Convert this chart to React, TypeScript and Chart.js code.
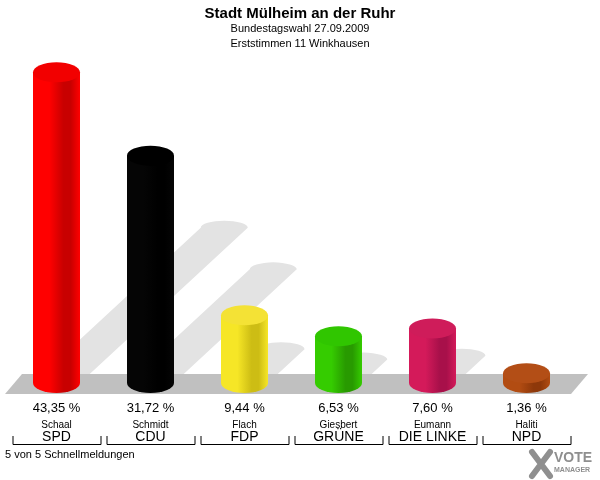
import React, { useEffect, useRef } from "react";
import { Chart, registerables } from "chart.js";

Chart.register(...registerables);

const parties = ["SPD", "CDU", "FDP", "GRÜNE", "DIE LINKE", "NPD"];
const candidates = ["Schaal", "Schmidt", "Flach", "Giesbert", "Eumann", "Haliti"];
const values = [43.35, 31.72, 9.44, 6.53, 7.6, 1.36];
const valueLabels = ["43,35 %", "31,72 %", "9,44 %", "6,53 %", "7,60 %", "1,36 %"];
const sideColors = ["#ff0000", "#050505", "#f6e626", "#35cc00", "#d41a5a", "#b24c12"];
const darkColors = ["#c80000", "#000000", "#cdbd14", "#289a00", "#a8104a", "#8e380a"];
const topColors = ["#f20000", "#000000", "#f4e235", "#30c600", "#cf1c5a", "#b34e16"];

const titleText = "Stadt Mülheim an der Ruhr";
const subtitle1 = "Bundestagswahl 27.09.2009";
const subtitle2 = "Erststimmen 11 Winkhausen";
const footText = "5 von 5 Schnellmeldungen";

const FONT = "'Liberation Sans', Arial, sans-serif";

const cylinderPlugin = {
  id: "cylinders",
  afterDatasetsDraw(chart: any) {
    const ctx: CanvasRenderingContext2D = chart.ctx;
    const meta = chart.getDatasetMeta(0);
    const yScale = chart.scales.y;
    const base = yScale.getPixelForValue(0);
    const ry = 10;
    const els = meta.data;

    ctx.save();
    // shadows
    ctx.fillStyle = "#e3e3e3";
    els.forEach((el: any) => {
      const w = el.width;
      const xl = el.x - w / 2;
      const xr = el.x + w / 2;
      const h = base - el.y;
      const d = h / 2;
      const dx = d * 1.08;
      ctx.beginPath();
      ctx.moveTo(xl, base);
      ctx.lineTo(xr, base);
      ctx.lineTo(xr + dx, base - d);
      ctx.ellipse(el.x + dx, base - d, w / 2, 7, 0, 0, Math.PI, true);
      ctx.lineTo(xl, base);
      ctx.closePath();
      ctx.fill();
    });

    // floor
    ctx.fillStyle = "#c0c0c0";
    ctx.beginPath();
    ctx.moveTo(5, base + 11);
    ctx.lineTo(22, base - 9);
    ctx.lineTo(588, base - 9);
    ctx.lineTo(571, base + 11);
    ctx.closePath();
    ctx.fill();

    // cylinders
    els.forEach((el: any, i: number) => {
      const w = el.width;
      const xl = el.x - w / 2;
      const xr = el.x + w / 2;
      const top = el.y;
      const g = ctx.createLinearGradient(xl, 0, xr, 0);
      g.addColorStop(0, sideColors[i]);
      g.addColorStop(0.35, sideColors[i]);
      g.addColorStop(0.65, darkColors[i]);
      g.addColorStop(0.8, darkColors[i]);
      g.addColorStop(1, sideColors[i]);
      ctx.fillStyle = g;
      ctx.beginPath();
      ctx.moveTo(xl, top);
      ctx.lineTo(xl, base);
      ctx.ellipse(el.x, base, w / 2, ry, 0, Math.PI, 0, true);
      ctx.lineTo(xr, top);
      ctx.closePath();
      ctx.fill();
      ctx.fillStyle = topColors[i];
      ctx.beginPath();
      ctx.ellipse(el.x, top, w / 2, ry, 0, 0, Math.PI * 2);
      ctx.fill();
    });

    // labels
    ctx.fillStyle = "#000";
    ctx.textAlign = "center";
    ctx.textBaseline = "middle";
    els.forEach((el: any, i: number) => {
      ctx.font = `13px ${FONT}`;
      ctx.fillText(valueLabels[i], el.x, 408);
      ctx.font = `10px ${FONT}`;
      ctx.fillText(candidates[i], el.x, 425);
      ctx.font = `14px ${FONT}`;
      ctx.fillText(parties[i], el.x, 437);
      ctx.strokeStyle = "#000";
      ctx.lineWidth = 1;
      ctx.beginPath();
      ctx.moveTo(el.x - 44 + 0.5, 436);
      ctx.lineTo(el.x - 44 + 0.5, 444.5);
      ctx.lineTo(el.x + 44 + 0.5, 444.5);
      ctx.lineTo(el.x + 44 + 0.5, 436);
      ctx.stroke();
    });

    // titles
    ctx.font = `bold 15px ${FONT}`;
    ctx.fillText(titleText, 300, 14);
    ctx.font = `11px ${FONT}`;
    ctx.fillText(subtitle1, 300, 29);
    ctx.fillText(subtitle2, 300, 44);

    ctx.textAlign = "left";
    ctx.font = `11px ${FONT}`;
    ctx.fillText(footText, 5, 455);

    // logo
    ctx.strokeStyle = "#8f8f8f";
    ctx.lineCap = "round";
    ctx.lineWidth = 6;
    ctx.beginPath();
    ctx.moveTo(532, 452);
    ctx.lineTo(550, 476);
    ctx.moveTo(550, 452);
    ctx.lineTo(532, 476);
    ctx.stroke();
    ctx.fillStyle = "#8f8f8f";
    ctx.font = `bold 14px ${FONT}`;
    ctx.fillText("VOTE", 554, 458);
    ctx.font = `bold 7px ${FONT}`;
    ctx.fillText("MANAGER", 554, 470);
    ctx.restore();
  },
};

export default function App() {
  const ref = useRef<HTMLCanvasElement | null>(null);
  useEffect(() => {
    if (!ref.current) return;
    const chart = new Chart(ref.current, {
      type: "bar",
      data: {
        labels: parties,
        datasets: [
          {
            data: values,
            backgroundColor: "rgba(0,0,0,0)",
            borderWidth: 0,
            categoryPercentage: 1,
            barPercentage: 0.5,
          },
        ],
      },
      options: {
        responsive: false,
        animation: false,
        layout: { padding: { top: 24.7, bottom: 97, left: 9.5, right: 26.5 } },
        plugins: { legend: { display: false }, tooltip: { enabled: false }, title: { display: false } },
        scales: {
          x: { display: false },
          y: { display: false, min: 0, max: 50 },
        },
      },
      plugins: [cylinderPlugin],
    });
    return () => chart.destroy();
  }, []);
  return (
    <div style={{ position: "fixed", left: 0, top: 0, width: 600, height: 480, background: "#fff" }}>
      <canvas ref={ref} width={600} height={480} style={{ width: 600, height: 480 }} />
    </div>
  );
}
